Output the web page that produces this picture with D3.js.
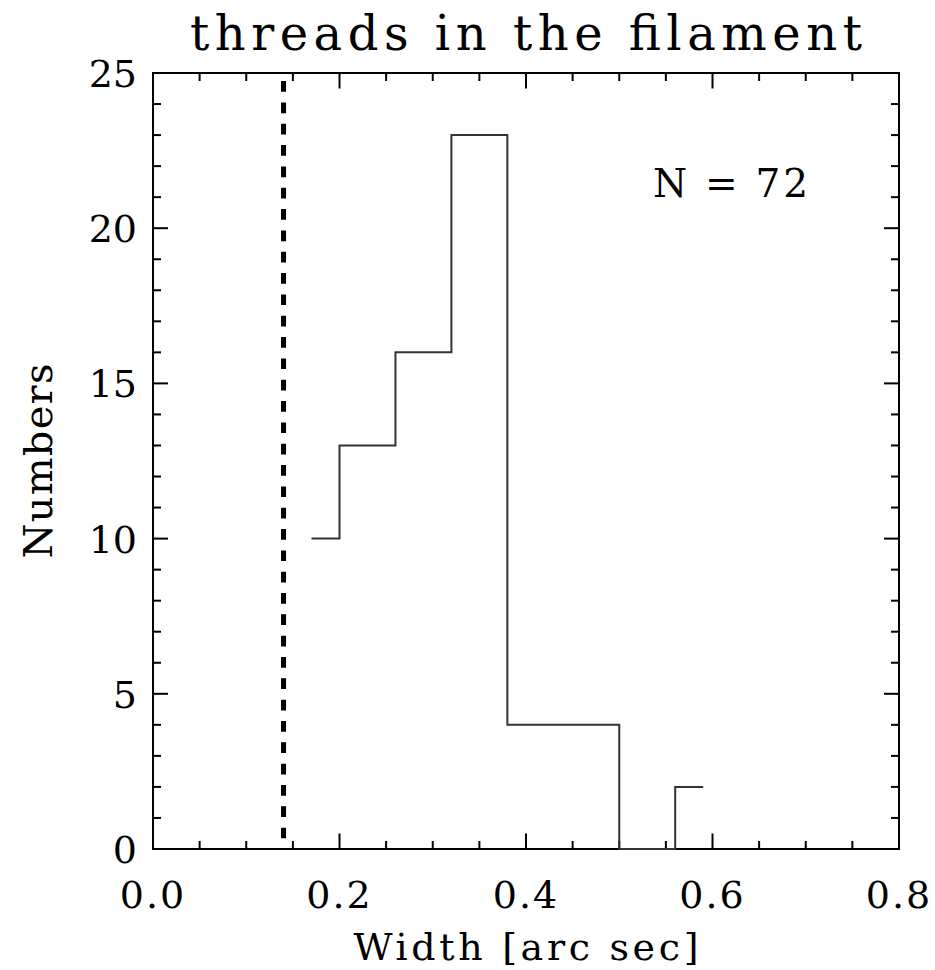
<!DOCTYPE html>
<html>
<head>
<meta charset="utf-8">
<script src="https://cdn.jsdelivr.net/npm/d3@7"></script>
<style>
  body { margin: 0; background: #fff; }
  text { font-family: "DejaVu Serif", "Liberation Serif", serif; fill: #000; }
</style>
</head>
<body>
<svg id="chart"></svg>
<script>
// Layout variables
let width = 935,
    height = 970;
let margin = { top: 73, right: 36, bottom: 121, left: 153 };
let w = width - margin.left - margin.right;
let h = height - margin.top - margin.bottom;

// Data: bin centres and counts (drawn as a centred step histogram)
let binCenters = [0.17, 0.23, 0.29, 0.35, 0.41, 0.47, 0.53, 0.59];
let binCounts = [10, 13, 16, 23, 4, 4, 0, 2];
let nTotal = 72;
let limitWidth = 0.14;          // dashed vertical line
let limitSpan = [0, 25];

// Axis ticks
let xMajor = [0.0, 0.2, 0.4, 0.6, 0.8];
let xMinor = d3.range(0, 0.8001, 0.05);
let yMajor = [0, 5, 10, 15, 20, 25];
let yMinor = d3.range(0, 25.001, 1);

let title = "threads in the filament";
let xTitle = "Width [arc sec]";
let yTitle = "Numbers";

let svg = d3.select("#chart")
    .attr("width", width)
    .attr("height", height);

svg.append("rect")
    .attr("width", width)
    .attr("height", height)
    .attr("fill", "#fff");

let g = svg.append("g")
    .attr("transform", `translate(${margin.left},${margin.top})`);

let x = d3.scaleLinear().domain([0, 0.8]).range([0, w]);
let y = d3.scaleLinear().domain([0, 25]).range([h, 0]);

// Ticks on all four sides, pointing inward
let majLenX = 15.5, minLenX = 8;
let majLenY = 15, minLenY = 8;
let isMajorX = v => xMajor.some(m => Math.abs(m - v) < 1e-6);
let isMajorY = v => yMajor.some(m => Math.abs(m - v) < 1e-6);

let ticks = g.append("g")
    .attr("stroke", "#000")
    .attr("stroke-width", 2);

xMinor.forEach(v => {
    let len = isMajorX(v) ? majLenX : minLenX;
    ticks.append("line").attr("x1", x(v)).attr("x2", x(v)).attr("y1", h).attr("y2", h - len);
    ticks.append("line").attr("x1", x(v)).attr("x2", x(v)).attr("y1", 0).attr("y2", len);
});
yMinor.forEach(v => {
    let len = isMajorY(v) ? majLenY : minLenY;
    ticks.append("line").attr("x1", 0).attr("x2", len).attr("y1", y(v)).attr("y2", y(v));
    ticks.append("line").attr("x1", w).attr("x2", w - len).attr("y1", y(v)).attr("y2", y(v));
});

// Frame
g.append("rect")
    .attr("width", w)
    .attr("height", h)
    .attr("fill", "none")
    .attr("stroke", "#000")
    .attr("stroke-width", 2);

// Tick labels
g.selectAll(".xlab")
    .data(xMajor)
    .enter().append("text")
    .attr("class", "xlab")
    .attr("x", d => x(d))
    .attr("y", h + 59)
    .attr("text-anchor", "middle")
    .attr("font-size", 38)
    .attr("letter-spacing", 2)
    .text(d => d3.format(".1f")(d));

g.selectAll(".ylab")
    .data(yMajor)
    .enter().append("text")
    .attr("class", "ylab")
    .attr("x", -16)
    .attr("y", d => y(d))
    .attr("dy", "0.37em")
    .attr("text-anchor", "end")
    .attr("font-size", 38)
    .text(d => d);

// Dashed limit line
let limitLine = d3.line()
    .x(d => x(d[0]))
    .y(d => y(d[1]));
g.append("path")
    .datum([[limitWidth, limitSpan[0]], [limitWidth, limitSpan[1]]])
    .attr("d", limitLine)
    .attr("fill", "none")
    .attr("stroke", "#000")
    .attr("stroke-width", 5)
    .attr("stroke-dasharray", "10.7 10.63")
    .attr("stroke-dashoffset", 10.7);

// Histogram (step centred on each bin)
let hist = d3.line()
    .x((d, i) => x(binCenters[i]))
    .y(d => y(d))
    .curve(d3.curveStep);
g.append("path")
    .datum(binCounts)
    .attr("d", hist)
    .attr("fill", "none")
    .attr("stroke", "#333")
    .attr("stroke-width", 2);

// Annotation
svg.append("text")
    .attr("x", 653)
    .attr("y", 197)
    .attr("font-size", 39)
    .attr("textLength", 155)
    .attr("lengthAdjust", "spacing")
    .text("N = " + nTotal);

// Titles
svg.append("text")
    .attr("x", margin.left + w / 2)
    .attr("y", 50)
    .attr("text-anchor", "middle")
    .attr("font-size", 48)
    .attr("textLength", 672)
    .attr("lengthAdjust", "spacing")
    .text(title);

svg.append("text")
    .attr("x", margin.left + w / 2)
    .attr("y", 960)
    .attr("text-anchor", "middle")
    .attr("font-size", 38)
    .attr("textLength", 345)
    .attr("lengthAdjust", "spacing")
    .text(xTitle);

svg.append("text")
    .attr("transform", `translate(52,${margin.top + h / 2}) rotate(-90)`)
    .attr("text-anchor", "middle")
    .attr("font-size", 40)
    .attr("textLength", 195)
    .attr("lengthAdjust", "spacing")
    .text(yTitle);
</script>
</body>
</html>
